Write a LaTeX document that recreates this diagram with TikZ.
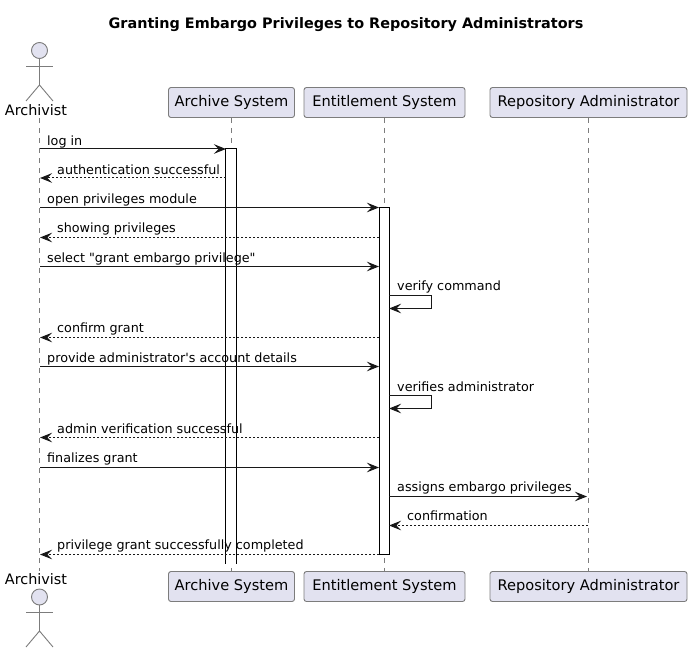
\documentclass[tikz,border=0pt]{standalone}
\usepackage{fontspec}
\setmainfont{DejaVu Sans}
\newfontfamily\msgfont{DejaVu Sans}
\usetikzlibrary{arrows.meta}
\definecolor{partfill}{HTML}{E2E2F0}
\definecolor{partline}{HTML}{7C7C7C}
\definecolor{msgline}{HTML}{181818}
\tikzset{
    partbox/.style={draw=partline, line width=0.9pt, fill=partfill, rounded corners=2.5pt, minimum height=30pt, inner sep=0pt, font=\fontsize{14.6}{16}\selectfont},
    actorname/.style={inner sep=0pt, minimum height=16pt, font=\fontsize{14.4}{16}\selectfont},
    actorhead/.style={circle, draw=partline, line width=0.9pt, fill=partfill, minimum size=16pt, inner sep=0pt},
    actorline/.style={draw=partline, line width=0.9pt},
    lifeline/.style={draw=partline, line width=0.9pt, dash pattern=on 5pt off 5pt},
    activebar/.style={draw=black, line width=1pt, fill=white, minimum width=10pt, inner sep=0pt},
    msg/.style={draw=msgline, line width=1pt, -{Stealth[length=12pt,width=9.5pt,inset=4.5pt]}},
    reply/.style={msg, dash pattern=on 2pt off 2pt},
    msglabel/.style={anchor=base west, inner sep=0pt, font=\msgfont\fontsize{12.75}{15}\selectfont}
}
\begin{document}
\begin{tikzpicture}[x=1pt, y=-1pt]
    \useasboundingbox (0,0) rectangle (692,652);
    \node[font=\fontsize{14.4}{16}\selectfont\bfseries] (title) at (346,25) {Granting Embargo Privileges to Repository Administrators};

    % PARTICIPANTS TOP
    \node[actorname] (A1) at (36,110) {Archivist};
    \node[partbox, minimum width=126pt] (B1) at (231.5,102.5) {Archive System};
    \node[partbox, minimum width=161pt] (C1) at (384.5,102.5) {Entitlement System};
    \node[partbox, minimum width=197pt] (D1) at (588.5,102.5) {Repository Administrator};

    % PARTICIPANTS BOTTOM
    \node[actorname] (A2) at (36,579) {Archivist};
    \node[partbox, minimum width=126pt] (B2) at (231.5,586.5) {Archive System};
    \node[partbox, minimum width=161pt] (C2) at (384.5,586.5) {Entitlement System};
    \node[partbox, minimum width=197pt] (D2) at (588.5,586.5) {Repository Administrator};

    % ACTOR TOP
    \node[actorhead] (headA1) at (39.5,50.5) {};
    \coordinate (hipA1) at (39.5,85);
    \coordinate (armlA1) at (26,66);
    \coordinate (armrA1) at (53,66);
    \coordinate (leglA1) at (26,101);
    \coordinate (legrA1) at (53,101);
    \draw[actorline] (headA1) -- (hipA1);
    \draw[actorline] (armlA1) -- (armrA1);
    \draw[actorline] (leglA1) -- (hipA1) -- (legrA1);

    % ACTOR BOTTOM
    \node[actorhead] (headA2) at (39.5,597) {};
    \coordinate (hipA2) at (39.5,631);
    \coordinate (armlA2) at (26,612);
    \coordinate (armrA2) at (53,612);
    \coordinate (leglA2) at (26,647);
    \coordinate (legrA2) at (53,647);
    \draw[actorline] (headA2) -- (hipA2);
    \draw[actorline] (armlA2) -- (armrA2);
    \draw[actorline] (leglA2) -- (hipA2) -- (legrA2);

    % LIFELINES
    \draw[lifeline] (A1.south -| headA1) -- (A2.north -| headA1);
    \draw[lifeline] (B1) -- (B2);
    \draw[lifeline] (C1) -- (C2);
    \draw[lifeline] (D1) -- (D2);

    % ACTIVATIONS
    \node[activebar, draw=none, minimum height=414pt] (barB) at (231,356) {};
    \draw[line width=1pt] (barB.south west) -- (barB.north west) -- (barB.north east) -- (barB.south east);
    \node[activebar, minimum height=347pt] (barC) at (384,380.5) {};

    % MESSAGES
    \coordinate (M1a) at (40,149);
    \coordinate (M1b) at (226,149);
    \draw[msg] (M1a) -- (M1b);
    \coordinate (M2a) at (226,178);
    \coordinate (M2b) at (40,178);
    \draw[reply] (M2a) -- (M2b);
    \coordinate (M3a) at (40,207.5);
    \coordinate (M3b) at (379,207.5);
    \draw[msg] (M3a) -- (M3b);
    \coordinate (M4a) at (379,237.5);
    \coordinate (M4b) at (40,237.5);
    \draw[reply] (M4a) -- (M4b);
    \coordinate (M5a) at (40,266.5);
    \coordinate (M5b) at (379,266.5);
    \draw[msg] (M5a) -- (M5b);
    \coordinate (M6a) at (389,295.5);
    \coordinate (M6c) at (431.5,295.5);
    \coordinate (M6d) at (431.5,308.5);
    \coordinate (M6b) at (389,308.5);
    \draw[msg] (M6a) -- (M6c) -- (M6d) -- (M6b);
    \coordinate (M7a) at (379,337.5);
    \coordinate (M7b) at (40,337.5);
    \draw[reply] (M7a) -- (M7b);
    \coordinate (M8a) at (40,366.5);
    \coordinate (M8b) at (379,366.5);
    \draw[msg] (M8a) -- (M8b);
    \coordinate (M9a) at (389,395.5);
    \coordinate (M9c) at (431.5,395.5);
    \coordinate (M9d) at (431.5,408.5);
    \coordinate (M9b) at (389,408.5);
    \draw[msg] (M9a) -- (M9c) -- (M9d) -- (M9b);
    \coordinate (M10a) at (379,437.5);
    \coordinate (M10b) at (40,437.5);
    \draw[reply] (M10a) -- (M10b);
    \coordinate (M11a) at (40,467.5);
    \coordinate (M11b) at (379,467.5);
    \draw[msg] (M11a) -- (M11b);
    \coordinate (M12a) at (389,496.5);
    \coordinate (M12b) at (587,496.5);
    \draw[msg] (M12a) -- (M12b);
    \coordinate (M13a) at (588,525.5);
    \coordinate (M13b) at (389,525.5);
    \draw[reply] (M13a) -- (M13b);
    \coordinate (M14a) at (379,554.5);
    \coordinate (M14b) at (40,554.5);
    \draw[reply] (M14a) -- (M14b);

    % LABELS
    \node[msglabel] (L1) at (47,145.5) {log in};
    \node[msglabel] (L2) at (57,174.5) {authentication successful};
    \node[msglabel] (L3) at (47,203.5) {open privileges module};
    \node[msglabel] (L4) at (57,232.5) {showing privileges};
    \node[msglabel] (L5) at (47,262) {select "grant embargo privilege"};
    \node[msglabel] (L6) at (397,290) {verify command};
    \node[msglabel] (L7) at (57,332) {confirm grant};
    \node[msglabel] (L8) at (47,362) {provide administrator's account details};
    \node[msglabel] (L9) at (397,391) {verifies administrator};
    \node[msglabel] (L10) at (57,433) {admin verification successful};
    \node[msglabel] (L11) at (47,462) {finalizes grant};
    \node[msglabel] (L12) at (397,491.5) {assigns embargo privileges};
    \node[msglabel] (L13) at (407,520) {confirmation};
    \node[msglabel] (L14) at (57,549) {privilege grant successfully completed};
\end{tikzpicture}
\end{document}
